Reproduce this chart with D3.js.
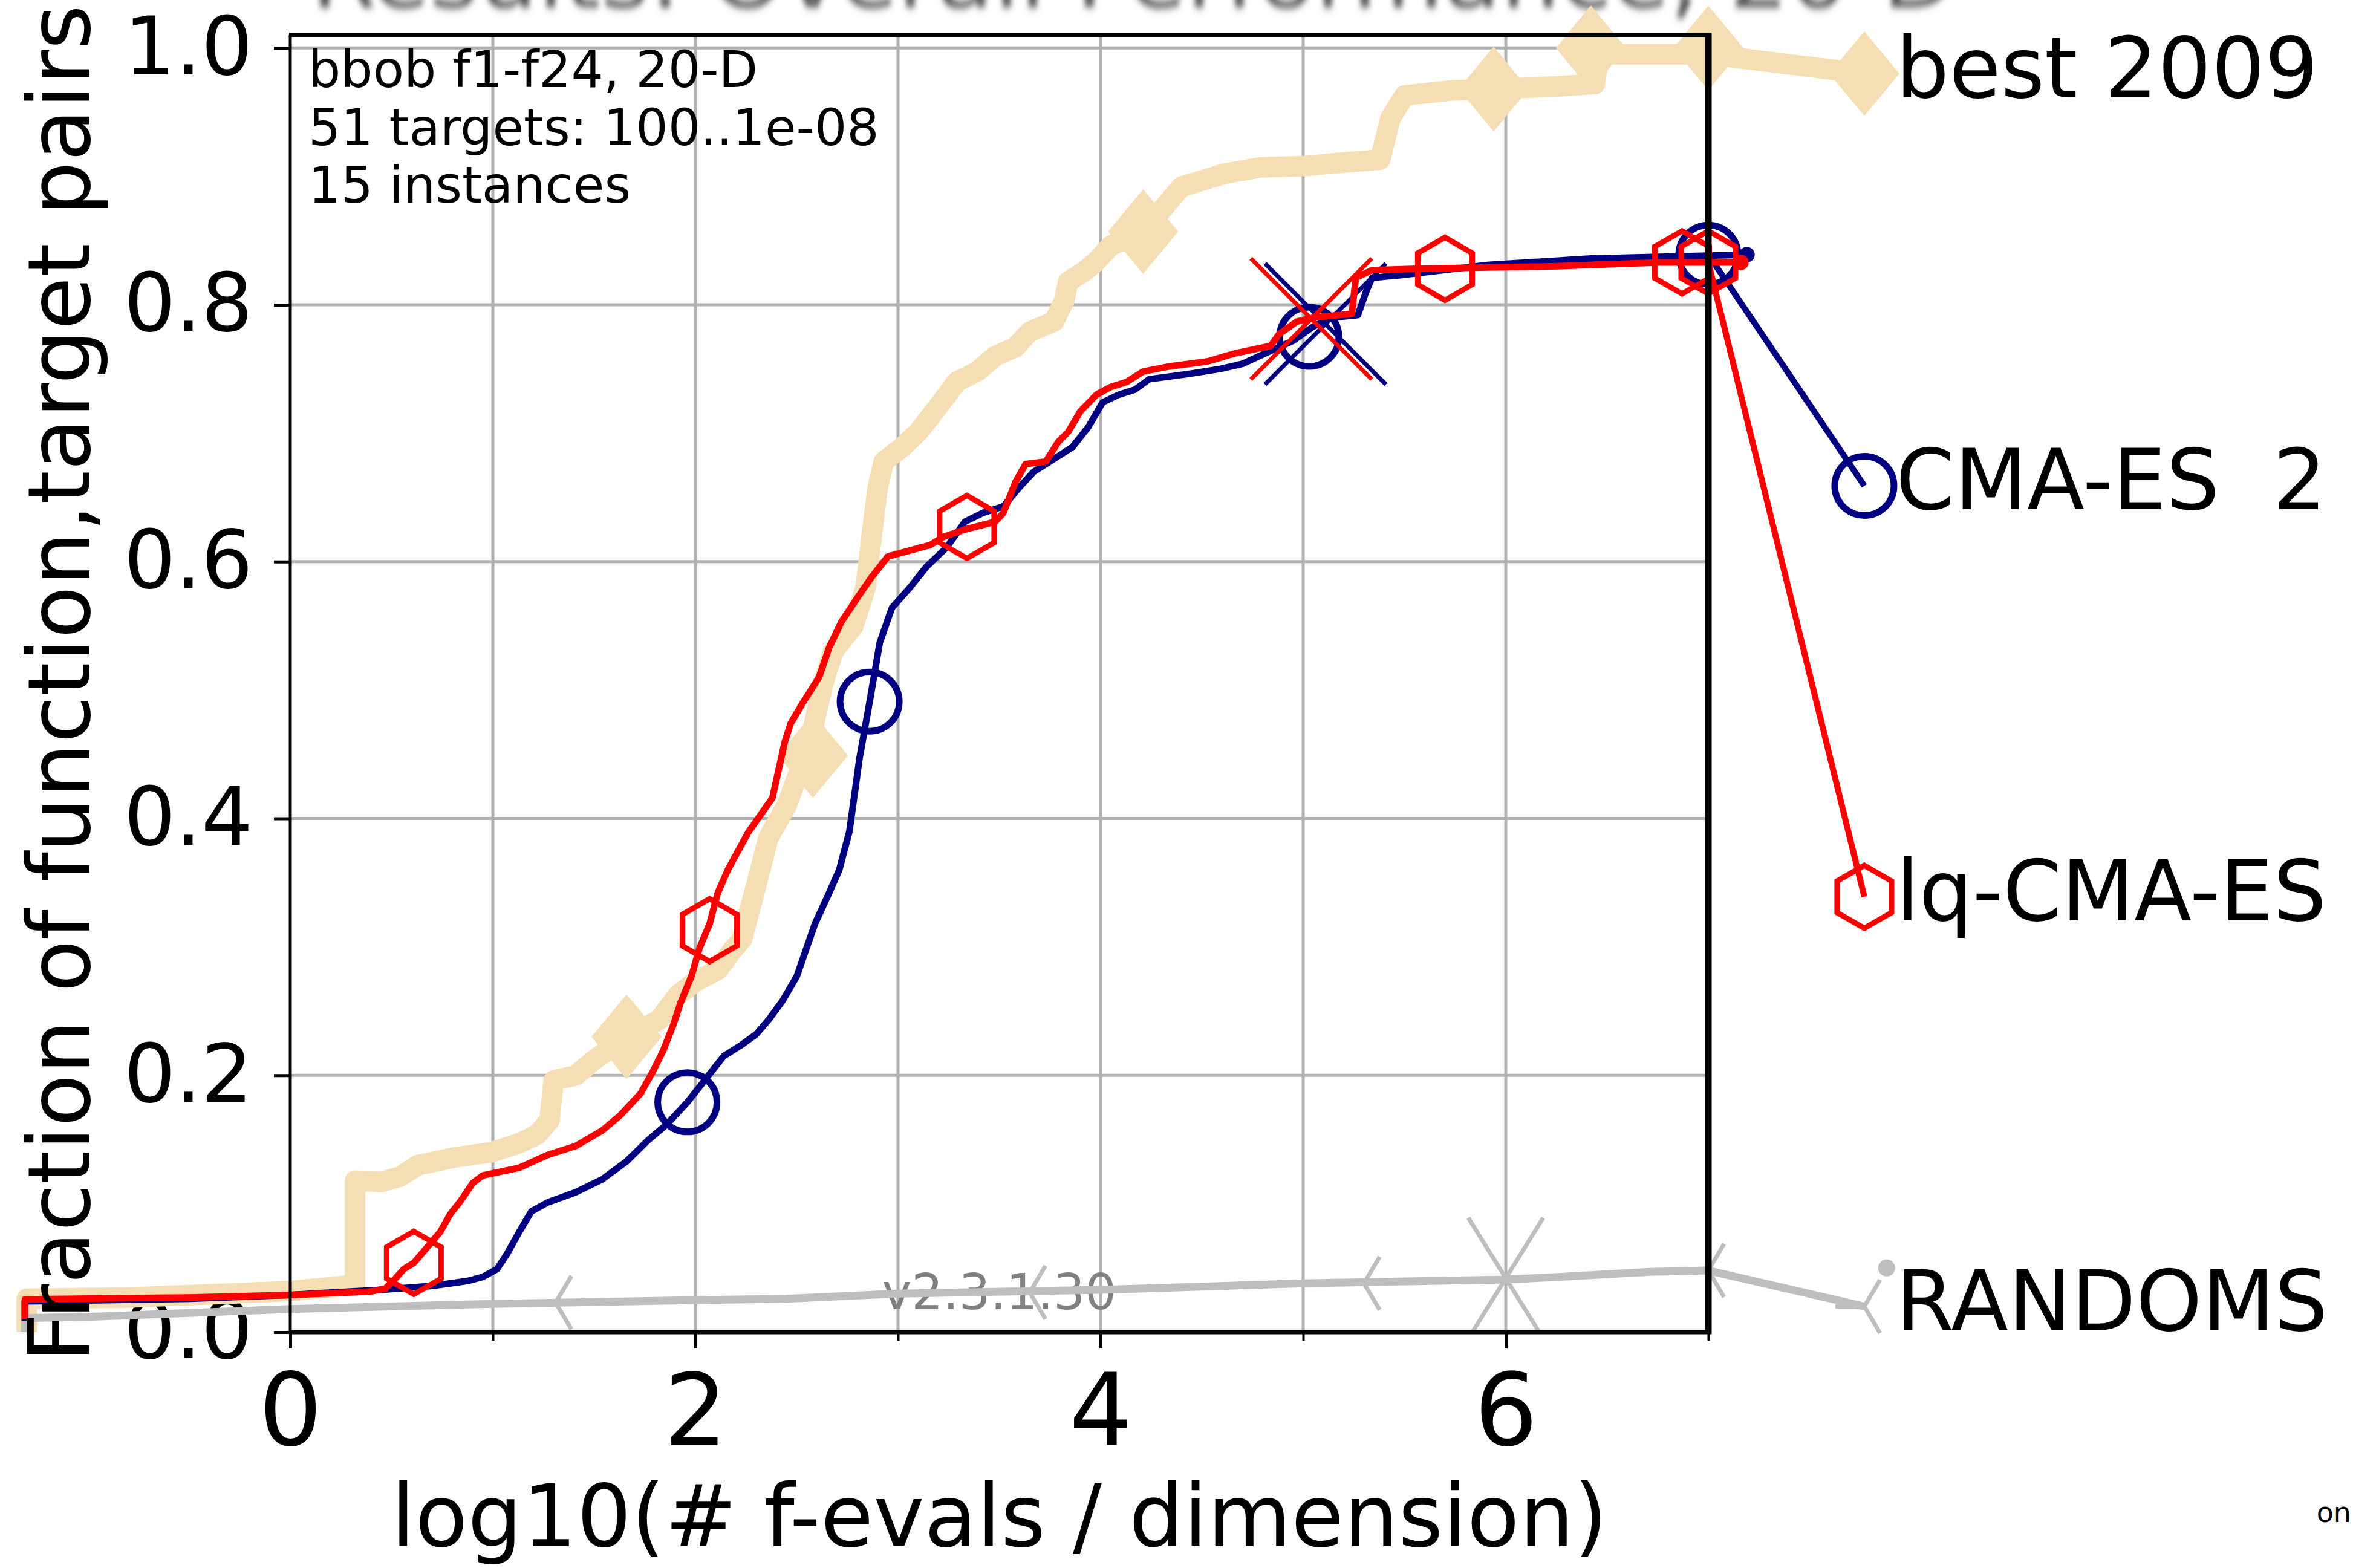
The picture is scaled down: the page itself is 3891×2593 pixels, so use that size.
<!DOCTYPE html>
<html><head><meta charset="utf-8">
<script src="https://cdn.jsdelivr.net/npm/d3@7"></script>
<style>
html,body{margin:0;padding:0;background:#fff;overflow:hidden}
svg{display:block}
text{font-family:"DejaVu Sans",sans-serif}
</style></head><body>
<svg id="chart" width="3891" height="2593"></svg>
<script>
// ---------- data ----------
const xMajorTicks = [0, 2, 4, 6];
const xMajorLabels = ["0", "2", "4", "6"];
const xMinorTicks = [1, 3, 5, 7];
const xGrid = [1, 2, 3, 4, 5, 6];
const yTicks = [0, 0.2, 0.4, 0.6, 0.8, 1.0];
const yTickLabels = ["0.0", "0.2", "0.4", "0.6", "0.8", "1.0"];
const yGrid = [0.2, 0.4, 0.6, 0.8, 1.0];

const seriesNames = ["best 2009", "CMA-ES  2", "lq-CMA-ES", "RANDOMS"];
const labelY = [0.98, 0.659, 0.339, 0.020];
const labelX = 7.77;

const best2009 = [[-1.30,0.0],[-1.30,0.026],[-0.8,0.027],[-0.3,0.030],[0.0,0.032],[0.26,0.036],[0.32,0.037],[0.32,0.118],[0.45,0.117],[0.54,0.121],[0.63,0.130],[0.81,0.136],[0.99,0.140],[1.13,0.147],[1.22,0.154],[1.28,0.165],[1.30,0.196],[1.41,0.200],[1.50,0.212],[1.66,0.230],[1.82,0.243],[1.91,0.262],[2.0,0.273],[2.11,0.282],[2.18,0.297],[2.23,0.306],[2.27,0.330],[2.32,0.360],[2.36,0.385],[2.45,0.41],[2.52,0.44],[2.58,0.47],[2.63,0.505],[2.68,0.53],[2.78,0.55],[2.84,0.58],[2.87,0.62],[2.90,0.658],[2.93,0.678],[3.02,0.689],[3.10,0.701],[3.18,0.717],[3.29,0.740],[3.39,0.748],[3.48,0.760],[3.58,0.767],[3.65,0.779],[3.77,0.787],[3.82,0.803],[3.84,0.818],[3.92,0.826],[3.98,0.834],[4.05,0.846],[4.21,0.857],[4.34,0.881],[4.40,0.892],[4.61,0.902],[4.79,0.907],[5.0,0.908],[5.22,0.911],[5.38,0.913],[5.43,0.945],[5.50,0.963],[5.74,0.967],[5.94,0.968],[6.25,0.970],[6.44,0.972],[6.46,0.995],[7.0,0.995],[7.77,0.98]];
const best2009Markers = [[1.66,0.230],[2.58,0.449],[4.21,0.857],[5.94,0.968],[6.42,1.0],[7.0,1.0],[7.77,0.98]];

const cmaes = [[-1.31,0.009],[-1.31,0.024],[-0.5,0.026],[0.0,0.029],[0.45,0.033],[0.70,0.036],[0.88,0.040],[0.95,0.043],[1.02,0.049],[1.07,0.061],[1.13,0.078],[1.19,0.094],[1.27,0.101],[1.41,0.109],[1.54,0.119],[1.66,0.133],[1.77,0.150],[1.86,0.162],[1.96,0.179],[2.04,0.195],[2.14,0.215],[2.23,0.224],[2.30,0.232],[2.36,0.243],[2.43,0.258],[2.50,0.277],[2.59,0.318],[2.66,0.342],[2.71,0.36],[2.76,0.39],[2.81,0.447],[2.86,0.491],[2.91,0.537],[2.97,0.564],[3.06,0.580],[3.14,0.596],[3.24,0.611],[3.33,0.631],[3.42,0.638],[3.52,0.643],[3.60,0.658],[3.67,0.670],[3.79,0.682],[3.86,0.689],[3.94,0.705],[4.01,0.724],[4.09,0.730],[4.17,0.734],[4.24,0.742],[4.43,0.746],[4.59,0.750],[4.70,0.754],[4.81,0.762],[4.95,0.772],[5.05,0.783],[5.14,0.790],[5.27,0.792],[5.31,0.810],[5.34,0.821],[5.48,0.823],[5.91,0.831],[6.42,0.836],[7.19,0.839]];
const cmaesTail = [[7.0,0.839],[7.77,0.659]];
const cmaesMarkers = [[1.96,0.179],[2.86,0.491],[5.03,0.775],[7.0,0.839],[7.77,0.659]];
const cmaesEnd = [[7.19,0.839]];
const cmaesCross = [[5.11,0.785]];

const lqcmaes = [[-1.31,0.010],[-1.31,0.0255],[-0.5,0.027],[0.0,0.029],[0.39,0.0315],[0.47,0.034],[0.52,0.042],[0.56,0.049],[0.61,0.054],[0.67,0.065],[0.74,0.078],[0.79,0.092],[0.84,0.102],[0.90,0.116],[0.95,0.122],[1.13,0.128],[1.27,0.138],[1.41,0.145],[1.54,0.157],[1.63,0.169],[1.73,0.186],[1.79,0.203],[1.84,0.219],[1.89,0.239],[1.93,0.258],[1.98,0.277],[2.02,0.299],[2.07,0.318],[2.11,0.342],[2.16,0.360],[2.26,0.389],[2.38,0.416],[2.44,0.459],[2.47,0.474],[2.53,0.490],[2.61,0.510],[2.66,0.533],[2.72,0.553],[2.80,0.572],[2.87,0.588],[2.95,0.604],[3.02,0.607],[3.16,0.613],[3.22,0.619],[3.33,0.625],[3.48,0.631],[3.52,0.638],[3.58,0.662],[3.63,0.676],[3.73,0.678],[3.79,0.693],[3.84,0.701],[3.90,0.717],[3.98,0.730],[4.05,0.736],[4.13,0.740],[4.21,0.748],[4.34,0.752],[4.53,0.756],[4.66,0.762],[4.84,0.768],[4.88,0.777],[4.97,0.787],[5.05,0.790],[5.24,0.793],[5.26,0.821],[5.34,0.827],[5.56,0.828],[6.25,0.830],[6.76,0.833],[7.16,0.833]];
const lqTail = [[7.0,0.833],[7.77,0.339]];
const lqMarkers = [[0.61,0.054],[2.07,0.313],[3.34,0.627],[5.70,0.828],[6.87,0.833],[7.0,0.833],[7.77,0.339]];
const lqEnd = [[7.16,0.833]];
const lqCross = [[5.04,0.789]];

const randoms = [[-1.31,0.0],[-1.31,0.011],[-0.98,0.012],[0.0,0.018],[1.0,0.022],[2.0,0.025],[2.45,0.026],[3.0,0.030],[4.0,0.033],[5.0,0.038],[6.0,0.041],[6.26,0.043],[6.71,0.047],[7.0,0.048],[7.77,0.020]];
const randomsMarkers = [[1.31,0.023],[3.65,0.031],[5.30,0.038],[7.0,0.048],[7.77,0.020]];
const randomsCross = [[6.0,0.042]];
const randomsEnd = [[7.88,0.050]];

const annotLines = ["bbob f1-f24, 20-D", "51 targets: 100..1e-08", "15 instances"];

// ---------- layout ----------
const svg = d3.select("#chart");
const xS = d3.scaleLinear().domain([0, 7]).range([480, 2825]);
const yS = d3.scaleLinear().domain([0, 1.01]).range([2203, 58]);
const line = d3.line().x(d => xS(d[0])).y(d => yS(d[1]));

const defs = svg.append("defs");
defs.append("filter").attr("id","blur").attr("x","-10%").attr("y","-50%").attr("width","120%").attr("height","200%")
  .append("feGaussianBlur").attr("stdDeviation","4 7");
defs.append("clipPath").attr("id","plotclip").append("rect")
  .attr("x", xS(0)).attr("y", yS(1.01)).attr("width", xS(7)-xS(0)).attr("height", yS(0)-yS(1.01));

// title (cut off at top, as in the reference)
svg.append("text").attr("x", 1873).attr("y", 12).attr("text-anchor","middle")
  .attr("font-size", 155).attr("fill","#555").attr("filter","url(#blur)")
  .text("Results: Overall Performance, 20-D");

// grid
svg.append("g").selectAll("line").data(xGrid).join("line")
  .attr("x1", d => xS(d)).attr("x2", d => xS(d)).attr("y1", yS(1.01)).attr("y2", yS(0))
  .attr("stroke","#b0b0b0").attr("stroke-width",5);
svg.append("g").selectAll("line").data(yGrid).join("line")
  .attr("x1", xS(0)).attr("x2", xS(7)).attr("y1", d => yS(d)).attr("y2", d => yS(d))
  .attr("stroke","#b0b0b0").attr("stroke-width",5);

// axes ticks/labels
const yAxis = d3.axisLeft(yS).tickValues(yTicks).tickFormat((d,i)=>yTickLabels[i]).tickSize(27).tickPadding(35);
const gy = svg.append("g").attr("transform",`translate(${xS(0)},0)`).call(yAxis);
gy.select(".domain").remove();
gy.selectAll("line").attr("stroke","#000").attr("stroke-width",5);
gy.selectAll("text").attr("font-size",134).attr("font-family","DejaVu Sans").attr("fill","#000");

const xAxis = d3.axisBottom(xS).tickValues(xMajorTicks).tickFormat((d,i)=>xMajorLabels[i]).tickSize(27).tickPadding(43);
const gx = svg.append("g").attr("transform",`translate(0,${yS(0)})`).call(xAxis);
gx.select(".domain").remove();
gx.selectAll("line").attr("stroke","#000").attr("stroke-width",5);
gx.selectAll("text").attr("font-size",165).attr("font-family","DejaVu Sans").attr("fill","#000");

const xAxisMinor = d3.axisBottom(xS).tickValues(xMinorTicks).tickFormat("").tickSize(14);
const gxm = svg.append("g").attr("transform",`translate(0,${yS(0)})`).call(xAxisMinor);
gxm.select(".domain").remove();
gxm.selectAll("line").attr("stroke","#000").attr("stroke-width",4);

// version text
svg.append("text").attr("x", xS(3.5)).attr("y", 2165).attr("text-anchor","middle")
  .attr("font-size",82).attr("fill","#808080").text("v2.3.1.30");

// ---------- series ----------
const COL_BEST = "#F5DEB3", COL_CMA = "#000080", COL_LQ = "#FF0000", COL_RND = "#BEBEBE";

// best 2009
svg.append("path").datum(best2009).attr("d", line).attr("fill","none")
  .attr("stroke",COL_BEST).attr("stroke-width",34).attr("stroke-linejoin","round");
svg.append("g").selectAll("path").data(best2009Markers).join("path")
  .attr("transform", d => `translate(${xS(d[0])},${yS(d[1])})`)
  .attr("d","M0,-70L58,0L0,70L-58,0Z").attr("fill",COL_BEST);

// RANDOMS
svg.append("path").datum(randoms).attr("d", line).attr("fill","none")
  .attr("stroke",COL_RND).attr("stroke-width",13).attr("stroke-linejoin","round");
svg.append("g").selectAll("path").data(randomsMarkers).join("path")
  .attr("transform", d => `translate(${xS(d[0])},${yS(d[1])})`)
  .attr("d","M0,0L-48,0M0,0L26,-44M0,0L26,44").attr("fill","none")
  .attr("stroke",COL_RND).attr("stroke-width",7);
svg.append("g").attr("clip-path","url(#plotclip)").selectAll("path").data(randomsCross).join("path")
  .attr("transform", d => `translate(${xS(d[0])},${yS(d[1])})`)
  .attr("d","M-62,-100L62,100M62,-100L-62,100").attr("fill","none")
  .attr("stroke",COL_RND).attr("stroke-width",7);
svg.append("g").selectAll("circle").data(randomsEnd).join("circle")
  .attr("cx", d => xS(d[0])).attr("cy", d => yS(d[1])).attr("r",14).attr("fill",COL_RND);

// CMA-ES
svg.append("path").datum(cmaes).attr("d", line).attr("fill","none")
  .attr("stroke",COL_CMA).attr("stroke-width",11).attr("stroke-linejoin","round");
svg.append("path").datum(cmaesTail).attr("d", line).attr("fill","none")
  .attr("stroke",COL_CMA).attr("stroke-width",10);
svg.append("g").selectAll("circle").data(cmaesMarkers).join("circle")
  .attr("cx", d => xS(d[0])).attr("cy", d => yS(d[1])).attr("r",49)
  .attr("fill","none").attr("stroke",COL_CMA).attr("stroke-width",11);
svg.append("g").selectAll("circle").data(cmaesEnd).join("circle")
  .attr("cx", d => xS(d[0])).attr("cy", d => yS(d[1])).attr("r",13).attr("fill",COL_CMA);
svg.append("g").selectAll("path").data(cmaesCross).join("path")
  .attr("transform", d => `translate(${xS(d[0])},${yS(d[1])})`)
  .attr("d","M-100,-100L100,100M100,-100L-100,100").attr("fill","none")
  .attr("stroke",COL_CMA).attr("stroke-width",7);

// lq-CMA-ES
const hexPath = (() => { const r = 52; const pts = d3.range(6).map(i => { const a = (-90 + 60*i) * Math.PI/180; return [r*Math.cos(a), r*Math.sin(a)]; }); return "M" + pts.map(p => p.join(",")).join("L") + "Z"; })();
svg.append("path").datum(lqcmaes).attr("d", line).attr("fill","none")
  .attr("stroke",COL_LQ).attr("stroke-width",11).attr("stroke-linejoin","round");
svg.append("path").datum(lqTail).attr("d", line).attr("fill","none")
  .attr("stroke",COL_LQ).attr("stroke-width",10);
svg.append("g").selectAll("path").data(lqMarkers).join("path")
  .attr("transform", d => `translate(${xS(d[0])},${yS(d[1])})`)
  .attr("d", hexPath).attr("fill","none").attr("stroke",COL_LQ).attr("stroke-width",9);
svg.append("g").selectAll("circle").data(lqEnd).join("circle")
  .attr("cx", d => xS(d[0])).attr("cy", d => yS(d[1])).attr("r",13).attr("fill",COL_LQ);
svg.append("g").selectAll("path").data(lqCross).join("path")
  .attr("transform", d => `translate(${xS(d[0])},${yS(d[1])})`)
  .attr("d","M-100,-100L100,100M100,-100L-100,100").attr("fill","none")
  .attr("stroke",COL_LQ).attr("stroke-width",7);

// ---------- spines ----------
svg.append("line").attr("x1",xS(0)).attr("x2",xS(0)).attr("y1",yS(1.01)).attr("y2",yS(0)).attr("stroke","#000").attr("stroke-width",5);
svg.append("line").attr("x1",xS(0)-2).attr("x2",xS(7)+5).attr("y1",yS(1.01)).attr("y2",yS(1.01)).attr("stroke","#000").attr("stroke-width",7);
svg.append("line").attr("x1",xS(0)-2).attr("x2",xS(7)+5).attr("y1",yS(0)).attr("y2",yS(0)).attr("stroke","#000").attr("stroke-width",7);
svg.append("line").attr("x1",xS(7)).attr("x2",xS(7)).attr("y1",yS(1.01)-3).attr("y2",yS(0)+3).attr("stroke","#000").attr("stroke-width",11);

// ---------- texts ----------
svg.append("g").selectAll("text").data(annotLines).join("text")
  .attr("x", 510).attr("y", (d,i) => 144 + i*95.5).attr("font-size",84).attr("fill","#000").text(d => d);

svg.append("g").selectAll("text").data(seriesNames).join("text")
  .attr("x", xS(labelX) + 52).attr("y", (d,i) => yS(labelY[i]) + 39)
  .attr("font-size",139).attr("fill","#000").style("white-space","pre").text(d => d);

svg.append("text").attr("x", xS(3.5)).attr("y", 2557).attr("text-anchor","middle")
  .attr("font-size",142).attr("fill","#000").text("log10(# f-evals / dimension)");

svg.append("text").attr("transform",`translate(148,${(yS(0)+yS(1.01))/2}) rotate(-90)`)
  .attr("text-anchor","middle").attr("font-size",142).attr("fill","#000")
  .text("Fraction of function,target pairs");

svg.append("text").attr("x",3888).attr("y",2517).attr("text-anchor","end").attr("font-size",46).attr("fill","#000").text("on");
</script>
</body></html>
